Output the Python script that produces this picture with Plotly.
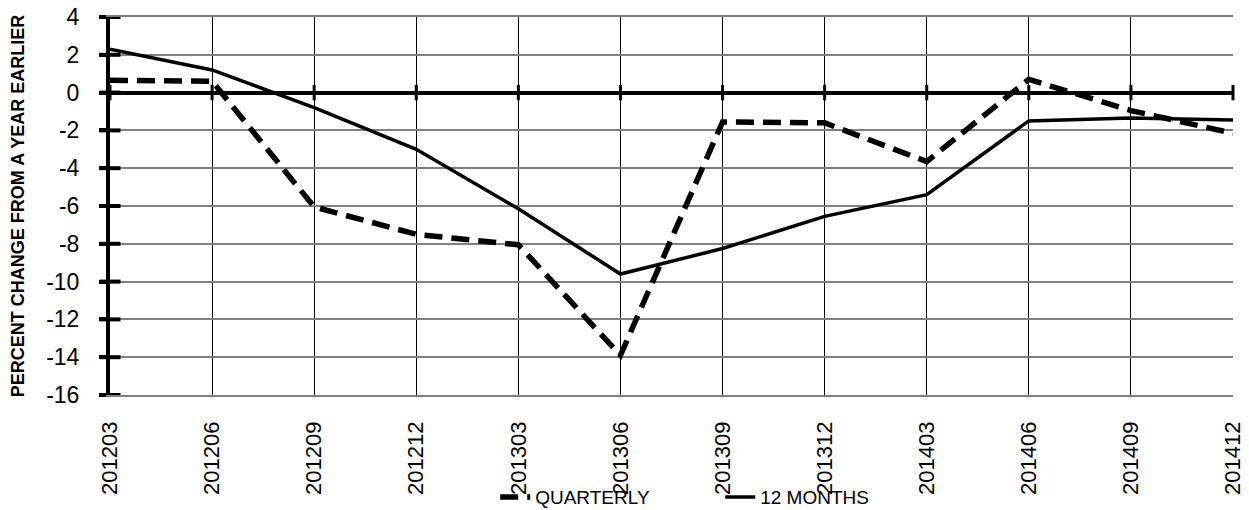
import plotly.graph_objects as go

categories = ["201203", "201206", "201209", "201212", "201303", "201306",
              "201309", "201312", "201403", "201406", "201409", "201412"]
quarterly = [0.65, 0.6, -6.05, -7.5, -8.05, -13.9, -1.55, -1.6, -3.65, 0.7, -0.95, -2.15]
twelve_months = [2.3, 1.2, -0.8, -3.0, -6.15, -9.6, -8.25, -6.55, -5.4, -1.5, -1.35, -1.45]
y_ticks = [4, 2, 0, -2, -4, -6, -8, -10, -12, -14, -16]
y_tick_labels = ["4", "2", "0", "-2", "-4", "-6", "-8", "-10", "-12", "-14", "-16"]

FONT = "Arial, Liberation Sans, sans-serif"

fig = go.Figure()

fig.add_trace(go.Scatter(
    x=categories, y=quarterly, mode="lines", name="QUARTERLY",
    line=dict(color="black", width=5.5, dash="18px,9px"),
    hoverinfo="skip",
))
fig.add_trace(go.Scatter(
    x=categories, y=twelve_months, mode="lines", name="12 MONTHS",
    line=dict(color="black", width=3.5),
    hoverinfo="skip",
))
# tick marks crossing the y axis line
fig.add_trace(go.Scatter(
    x=[categories[0]] * len(y_ticks), y=y_ticks, mode="markers",
    marker=dict(symbol="line-ew", size=15, line=dict(color="black", width=4)),
    cliponaxis=False, showlegend=False, hoverinfo="skip",
))
# tick marks on the zero line
fig.add_trace(go.Scatter(
    x=categories, y=[0] * len(categories), mode="markers",
    marker=dict(symbol="line-ns", size=11, line=dict(color="black", width=3)),
    cliponaxis=False, showlegend=False, hoverinfo="skip",
))

# the page body adds an 8px offset, so the figure is sized to the remaining window
fig.update_layout(
    width=1241, height=502,
    margin=dict(l=102, r=16, t=9, b=115, autoexpand=False),
    paper_bgcolor="white", plot_bgcolor="white",
    font=dict(family=FONT, color="black"),
    showlegend=True,
    legend=dict(
        orientation="h", x=0.343, xanchor="left", y=-0.27, yanchor="middle",
        font=dict(size=19, family=FONT), bgcolor="rgba(0,0,0,0)",
        entrywidth=180, entrywidthmode="pixels", tracegroupgap=0,
    ),
    xaxis=dict(
        type="category", categoryorder="array", categoryarray=categories,
        range=[0, len(categories) - 1],
        showgrid=True, gridcolor="black", gridwidth=1,
        ticks="", tickangle=-90, tickfont=dict(size=22, family=FONT),
        ticklabelstandoff=16, ticklabeloverflow="allow",
        showline=True, linecolor="#808080", linewidth=1.5, mirror=True,
        zeroline=False, automargin=False,
    ),
    yaxis=dict(
        range=[-16, 4], tickvals=y_ticks, ticktext=y_tick_labels,
        showgrid=True, gridcolor="#808080", gridwidth=1.5,
        zeroline=True, zerolinecolor="black", zerolinewidth=4,
        showline=True, linecolor="black", linewidth=4,
        ticks="outside", ticklen=7, tickwidth=4, tickcolor="black",
        tickfont=dict(size=23, family=FONT),
        ticklabelstandoff=15, ticklabeloverflow="allow", automargin=False,
        title=dict(text="PERCENT CHANGE FROM A YEAR EARLIER",
                   font=dict(size=18, family=FONT, weight="bold"),
                   standoff=18),
    ),
)

fig.write_html("out.html")
